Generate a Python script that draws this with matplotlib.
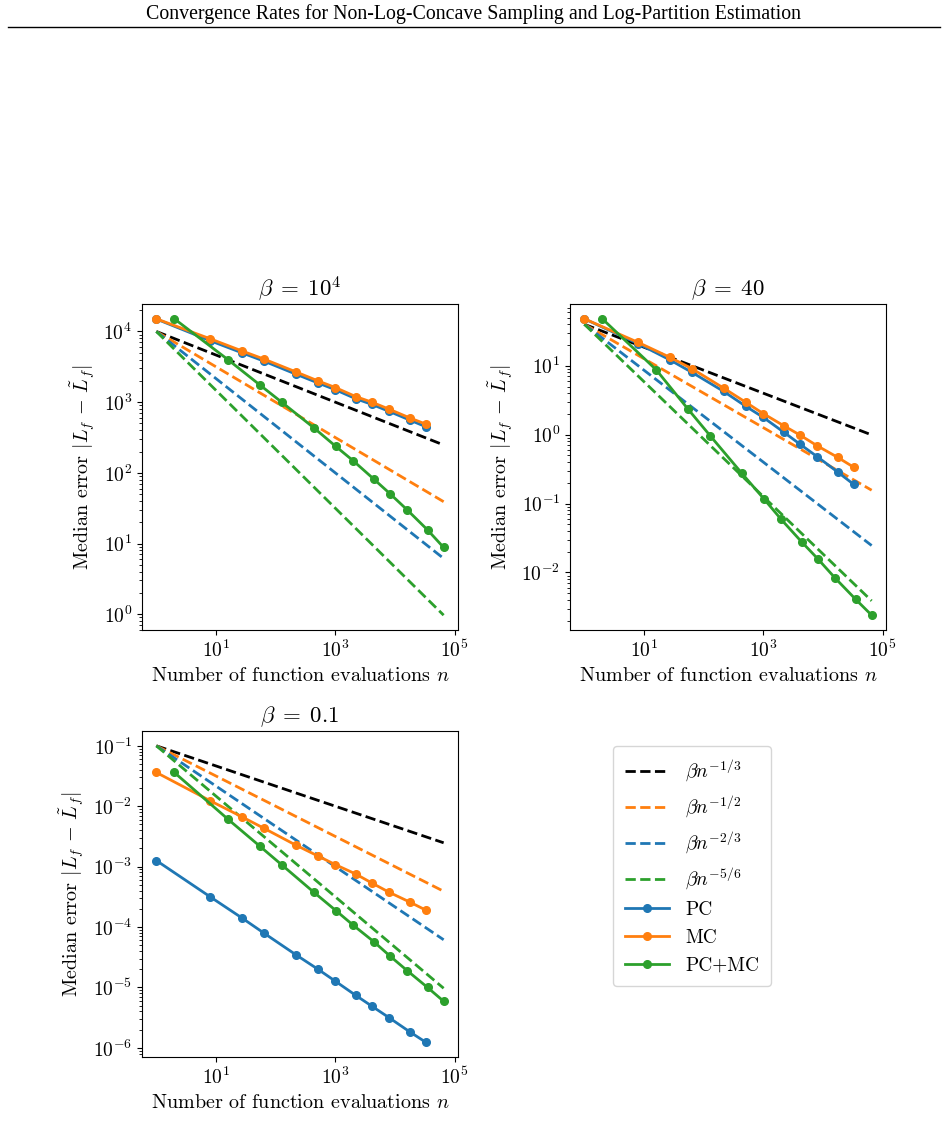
import numpy as np
import matplotlib
matplotlib.use("Agg")
import matplotlib.pyplot as plt
from matplotlib.ticker import LogLocator, NullLocator, NullFormatter
from matplotlib.lines import Line2D

plt.rcParams['font.family'] = 'serif'
plt.rcParams['font.serif'] = ['cmr10', 'DejaVu Serif']
plt.rcParams['mathtext.fontset'] = 'cm'
plt.rcParams['axes.formatter.use_mathtext'] = True
plt.rcParams['axes.unicode_minus'] = False

# ---------------- data ----------------
n_pc = [1, 8, 27, 64, 216, 512, 1000, 2197, 4096, 8000, 17576, 32768]
n_mix = [2, 16, 54, 128, 432, 1024, 2000, 4394, 8192, 16000, 35152, 65536]
n_ref = [1, 65536]

betas = [1e4, 40, 0.1]
titles = [r'$\beta\;=\;10^4$', r'$\beta\;=\;40$', r'$\beta\;=\;0.1$']

pc_b1 = [15000, 7400, 5000, 3800, 2500, 1870, 1500, 1120, 930, 740, 560, 450]
mc_b1 = [15100, 7870, 5320, 4060, 2690, 2000, 1610, 1200, 1000, 795, 600, 490]
mix_b1 = [15100, 3970, 1760, 990, 437, 236, 148, 82, 51, 30, 15.6, 8.8]

pc_b2 = [48, 20.9, 12.2, 8.0, 4.25, 2.57, 1.78, 1.09, 0.73, 0.48, 0.288, 0.19]
mc_b2 = [48, 21.8, 13.3, 9.05, 4.74, 2.94, 2.02, 1.35, 0.99, 0.69, 0.47, 0.337]
mix_b2 = [48, 8.75, 2.38, 0.97, 0.278, 0.117, 0.0588, 0.0278, 0.0158, 0.0083, 0.0041, 0.0024]

pc_b3 = [0.00126, 0.000316, 0.000142, 7.9e-5, 3.5e-5, 2.0e-5, 1.27e-5, 7.4e-6, 4.9e-6, 3.15e-6, 1.85e-6, 1.24e-6]
mc_b3 = [0.0362, 0.0123, 0.0067, 0.0043, 0.00228, 0.0015, 0.00108, 0.000755, 0.000536, 0.000376, 0.00026, 0.000191]
mix_b3 = [0.0362, 0.00605, 0.00219, 0.00106, 0.00038, 0.000187, 0.000107, 5.75e-5, 3.33e-5, 1.9e-5, 1.0e-5, 5.9e-6]

pc_all = [pc_b1, pc_b2, pc_b3]
mc_all = [mc_b1, mc_b2, mc_b3]
mix_all = [mix_b1, mix_b2, mix_b3]

rate_exps = [1/3, 1/2, 2/3, 5/6]
rate_labels = [r'$\beta n^{-1/3}$', r'$\beta n^{-1/2}$', r'$\beta n^{-2/3}$', r'$\beta n^{-5/6}$']
rate_colors = ['black', 'tab:orange', 'tab:blue', 'tab:green']

# ---------------- figure ----------------
W, H = 948, 1145
fig = plt.figure(figsize=(W / 100, H / 100), dpi=100)

def ax_rect(x0, y0, x1, y1):
    return [x0 / W, 1 - y1 / H, (x1 - x0) / W, (y1 - y0) / H]

rects = [ax_rect(142, 304, 458, 630), ax_rect(570, 304, 886, 630), ax_rect(142, 731, 458, 1057)]

FS = 14.5
TFS = 14
LW = 2.0
MS = 5.5

for i, r in enumerate(rects):
    ax = fig.add_axes(r)
    beta = betas[i]
    nr = np.array(n_ref, dtype=float)
    for p, c in zip(rate_exps, rate_colors):
        ax.plot(nr, beta * nr ** (-p), ls='--', color=c, lw=LW)
    ax.plot(n_pc, pc_all[i], '-o', color='tab:blue', lw=LW, ms=MS)
    ax.plot(n_pc, mc_all[i], '-o', color='tab:orange', lw=LW, ms=MS)
    ax.plot(n_mix, mix_all[i], '-o', color='tab:green', lw=LW, ms=MS)
    ax.set_xscale('log')
    ax.set_yscale('log')
    ax.set_xticks([1e1, 1e3, 1e5])
    ax.xaxis.set_minor_locator(NullLocator())
    ax.yaxis.set_major_locator(LogLocator(base=10, numticks=20))
    ax.yaxis.set_minor_locator(LogLocator(base=10, subs=np.arange(2, 10), numticks=20))
    ax.yaxis.set_minor_formatter(NullFormatter())
    ax.tick_params(labelsize=TFS)
    ax.set_xlabel(r'Number of function evaluations $n$', fontsize=FS)
    ax.set_ylabel(r'Median error $|L_f\,-\,\tilde{L}_f|$', fontsize=FS)
    ax.set_title(titles[i], fontsize=FS + 2)

handles = [Line2D([], [], ls='--', color=c, lw=LW) for c in rate_colors]
handles += [Line2D([], [], ls='-', marker='o', color=c, lw=LW, ms=MS)
            for c in ['tab:blue', 'tab:orange', 'tab:green']]
labels = rate_labels + ['PC', 'MC', 'PC+MC']
fig.legend(handles, labels, loc='upper left', bbox_to_anchor=(613 / W, 1 - 746 / H),
           borderaxespad=0.0, fontsize=14, handlelength=2.3, labelspacing=0.5, borderpad=0.6,
           handletextpad=0.8)

# header
fig.text(0.5, 1 - 14 / H, 'Convergence Rates for Non-Log-Concave Sampling and Log-Partition Estimation',
         ha='center', va='center', fontsize=14.3, family='Liberation Serif')
fig.add_artist(Line2D([8 / W, 940 / W], [1 - 27 / H, 1 - 27 / H], color='black', lw=1.0))

fig.savefig('out.png', dpi=100)
